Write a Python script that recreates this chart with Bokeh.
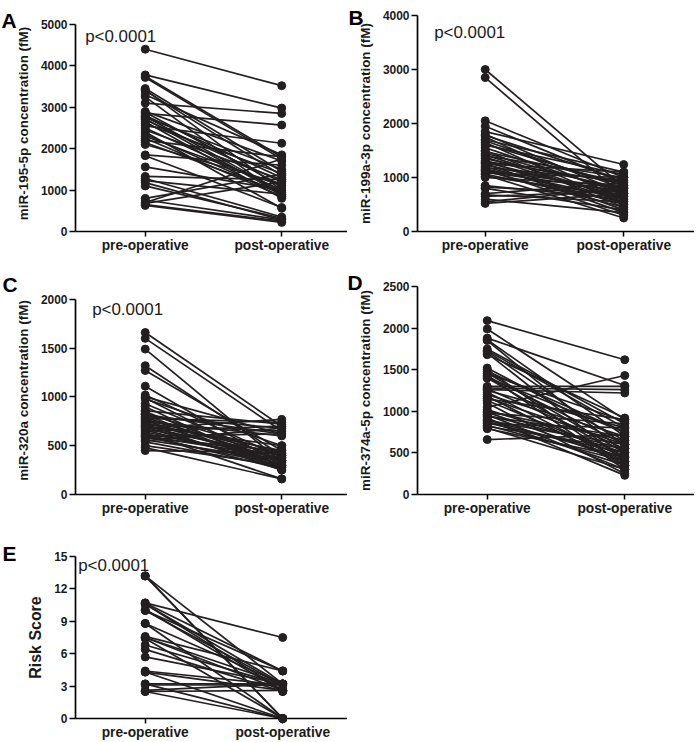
from bokeh.plotting import figure
from bokeh.layouts import column, row
from bokeh.models import FixedTicker, Range1d
from bokeh.core.properties import value
from bokeh.embed import file_html
from bokeh.resources import INLINE

# ---------------- data ----------------
groups = ["pre-operative", "post-operative"]

mir195_pre = [4400, 3780, 3750, 3720, 3450, 3400, 3420, 3300, 3250, 3100, 2900, 2880,
              2850, 2800, 2780, 2750, 2720, 2700, 2650, 2600, 2550, 2500, 2450, 2400,
              2350, 2300, 2250, 2200, 2150, 1850, 1830, 1560, 1330, 1280, 1230, 1100,
              800, 760, 700, 680, 650, 630, 1180, 2100]
mir195_post = [3520, 2980, 1800, 1750, 1450, 1350, 1000, 1850, 850, 2850, 1700, 1100,
               2570, 1300, 950, 1500, 900, 1200, 800, 1400, 2130, 1000, 1250, 560,
               900, 1100, 850, 1800, 950, 1600, 580, 1000, 1250, 350, 900, 320,
               1380, 280, 1750, 1200, 250, 220, 280, 1150]

mir199_pre = [3000, 2850, 2050, 1950, 1850, 1800, 1780, 1750, 1700, 1680, 1650, 1620,
              1600, 1550, 1500, 1480, 1450, 1420, 1400, 1380, 1350, 1320, 1300, 1280,
              1260, 1250, 1230, 1200, 1180, 1160, 1150, 1130, 1120, 1100, 1080, 1060,
              1050, 1020, 1000, 850, 820, 800, 700, 680, 650, 600, 550, 520]
mir199_post = [820, 650, 1000, 900, 1240, 700, 950, 600, 1100, 800, 500, 850,
               1050, 700, 450, 900, 750, 600, 1000, 550, 800, 400, 900, 650,
               350, 1100, 700, 500, 950, 600, 300, 800, 450, 750, 1000, 550,
               250, 650, 850, 600, 700, 400, 900, 550, 750, 350, 800, 700]

mir320_pre = [1660, 1600, 1490, 1320, 1270, 1110, 1020, 1000, 990, 980, 930, 860,
              850, 830, 820, 800, 790, 780, 770, 760, 750, 740, 730, 720,
              710, 700, 690, 680, 670, 660, 650, 640, 630, 620, 610, 600,
              590, 580, 560, 550, 540, 500, 480, 450, 600, 700, 820, 900]
mir320_post = [700, 650, 330, 400, 450, 300, 380, 620, 280, 500, 350, 720,
               300, 420, 260, 680, 350, 740, 400, 300, 600, 330, 450, 250,
               650, 370, 280, 770, 420, 310, 700, 350, 160, 400, 260, 620,
               300, 450, 350, 680, 280, 300, 160, 430, 380, 500, 620, 250]

mir374_pre = [2090, 1990, 1880, 1860, 1850, 1730, 1720, 1700, 1680, 1520, 1500, 1480,
              1460, 1450, 1430, 1420, 1400, 1280, 1270, 1260, 1250, 1230, 1200, 1180,
              1160, 1150, 1130, 1100, 1050, 1020, 1000, 990, 980, 960, 950, 940,
              920, 900, 890, 880, 860, 850, 830, 820, 800, 790, 660, 1400, 1750, 1300]
mir374_post = [1620, 900, 1310, 700, 500, 800, 600, 400, 920, 650, 350, 750,
               500, 880, 300, 600, 450, 1260, 550, 1220, 800, 400, 700, 350,
               600, 900, 450, 250, 1430, 500, 650, 400, 850, 300, 550, 700,
               230, 450, 600, 350, 500, 800, 400, 550, 300, 450, 720, 750, 850, 1300]

risk_pre = [13.2, 13.2, 13.2, 10.7, 10.7, 10.6, 10.6, 10.0, 10.0, 10.1, 8.8, 8.8,
            7.6, 7.5, 7.5, 7.4, 6.8, 6.4, 5.7, 4.4, 4.3, 4.3, 3.2, 3.1, 3.2, 2.6, 2.5, 2.5]
risk_post = [0, 0, 3.2, 7.5, 4.4, 3.2, 2.6, 3.1, 4.4, 2.5, 3.2, 0,
             4.4, 3.2, 2.6, 0, 3.1, 2.5, 3.2, 3.1, 2.6, 0, 3.2, 3.1, 0, 3.2, 0, 2.6]

# ---------------- styling ----------------
S = 0.996
FONT = "Liberation Sans"
INK = "#231f20"


def px(v):
    return f"{v * S:.2f}px"


def panel(pre, post, ylab, ymax, ystep, letter, pval, W, H, L, T, B, xr,
          ytop_px, letter_pos, p_pos, ylab_size=13.5):
    """ytop_px: pixel row (panel-relative) where ymax sits; frame top is T."""
    w, h = round(W * S), round(H * S)
    ml, mt, mb = round(L * S), round(T * S), round(B * S)
    fw, fh = w - ml, h - mt - mb
    fb = H - B
    yend = ymax * (fb - T) / (fb - ytop_px)
    p = figure(width=w, height=h, output_backend="svg",
               toolbar_location=None, x_range=Range1d(*xr), y_range=Range1d(0, yend),
               min_border_left=ml, min_border_right=0,
               min_border_top=mt, min_border_bottom=mb)
    p.outline_line_color = None
    p.xgrid.visible = False
    p.ygrid.visible = False

    xs = [[0, 1] for _ in pre]
    ys = [[a, b] for a, b in zip(pre, post)]
    p.multi_line(xs, ys, line_color=INK, line_width=1.7 * S)
    r = p.scatter([0] * len(pre) + [1] * len(post), list(pre) + list(post),
                  size=8 * S, fill_color=INK, line_color=INK, marker="circle")
    r.level = "overlay"

    p.xaxis.ticker = FixedTicker(ticks=[0, 1])
    p.xaxis.major_label_overrides = {0: groups[0], 1: groups[1]}
    p.yaxis.ticker = FixedTicker(ticks=list(range(0, ymax + 1, ystep)))
    p.yaxis.bounds = (0, ymax)

    for ax in (p.xaxis, p.yaxis):
        ax.axis_line_color = "black"
        ax.axis_line_width = 1.7 * S
        ax.major_tick_line_color = "black"
        ax.major_tick_line_width = 1.5 * S
        ax.major_tick_in = 0
        ax.minor_tick_line_color = None
        ax.major_label_text_font = FONT
        ax.major_label_text_font_style = "bold"
        ax.major_label_text_color = "#1a1a1a"
    p.xaxis.major_tick_out = round(5 * S)
    p.yaxis.major_tick_out = round(6 * S)
    p.xaxis.major_label_text_font_size = px(13.8)
    p.yaxis.major_label_text_font_size = px(12)
    p.xaxis.major_label_standoff = 1
    p.yaxis.major_label_standoff = 2

    p.yaxis.axis_label = ylab
    p.yaxis.axis_label_text_font = FONT
    p.yaxis.axis_label_text_font_style = "bold"
    p.yaxis.axis_label_text_font_size = px(ylab_size)
    p.yaxis.axis_label_text_color = "#1a1a1a"
    p.yaxis.axis_label_standoff = round(7 * S)

    # panel pixel -> data coordinates (for the panel letter and p-value text)
    def to_data(qx, qy):
        dx = xr[0] + ((qx * S - ml) / fw) * (xr[1] - xr[0])
        dy = ((fb - qy) * S / fh) * yend
        return dx, dy

    lx, ly = to_data(*letter_pos)
    t = p.text([lx], [ly], text=[letter], text_font=value(FONT), text_font_style="bold",
               text_font_size=value(px(21)), text_color="black",
               text_baseline="alphabetic", text_align="left")
    t.level = "overlay"
    if pval:
        qx, qy = to_data(*p_pos)
        t2 = p.text([qx], [qy], text=[pval], text_font=value(FONT),
                    text_font_size=value(px(17)), text_color="#1a1a1a",
                    text_baseline="alphabetic", text_align="left")
        t2.level = "overlay"
    return p


# row 1: frame top 15, bottom 234 ; row 2: top 31 (287), bottom 498 ; row 3: top 38 (558), bottom 723
pa = panel(mir195_pre, mir195_post, "miR-195-5p concentration (fM)", 5000, 1000, "A",
           "p<0.0001", 348, 256, 75, 15, 22, (-0.511, 1.482), 24, (1, 20), (85, 36))
pb = panel(mir199_pre, mir199_post, "miR-199a-3p concentration (fM)", 4000, 1000, "B",
           "p<0.0001", 348, 256, 70, 15, 22, (-0.489, 1.511), 15, (1, 17), (87, 32))
pc = panel(mir320_pre, mir320_post, "miR-320a concentration (fM)", 2000, 500, "C",
           "p<0.0001", 348, 264, 75, 31, 22, (-0.511, 1.482), 44, (2, 29), (92, 54))
pd = panel(mir374_pre, mir374_post, "miR-374a-5p concentration (fM)", 2500, 500, "D",
           None, 348, 264, 70, 31, 22, (-0.507, 1.507), 31, (0, 27), (0, 0))
pe = panel(risk_pre, risk_post, "Risk Score", 15, 3, "E",
           "p<0.0001", 348, 225, 75, 38, 22, (-0.507, 1.471), 38, (2, 35), (78, 47),
           ylab_size=16)

layout = column(row(pa, pb), row(pc, pd), pe)

open("out.html", "w").write(file_html(layout, INLINE))
